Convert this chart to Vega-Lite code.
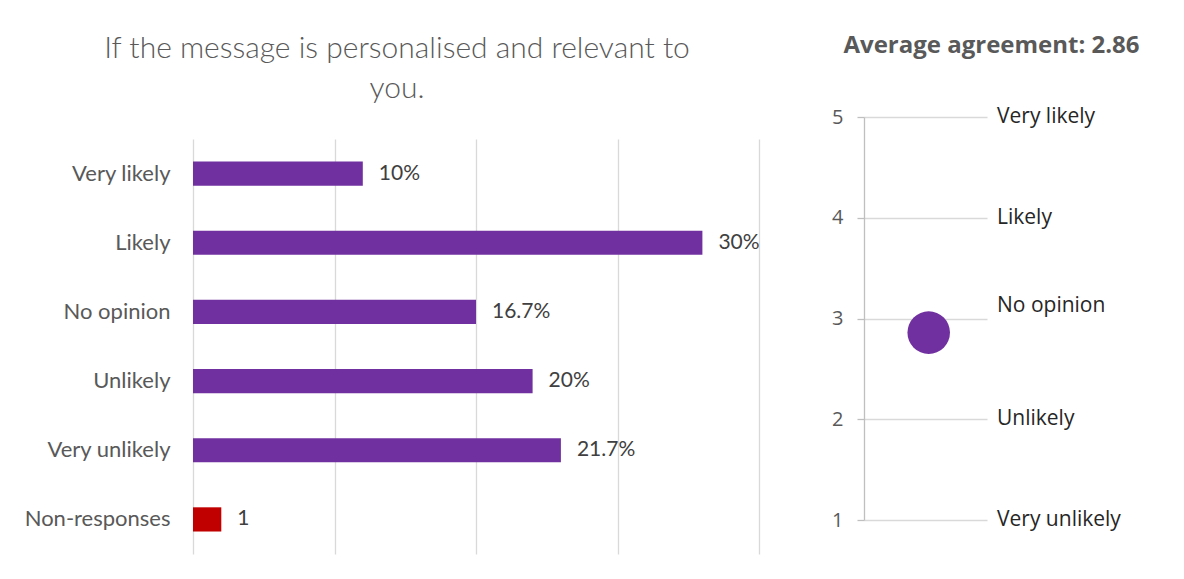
{
  "$schema": "https://vega.github.io/schema/vega-lite/v6.json",
  "autosize": {"type": "none"},
  "padding": {"left": 193, "top": 139, "right": 991, "bottom": 440},
  "bounds": "flush",
  "spacing": 105,
  "background": "white",
  "config": {"view": {"stroke": null}},
  "datasets": {
    "bars": [
      {"category": "Very likely", "count": 6, "label": "10%", "group": "response"},
      {"category": "Likely", "count": 18, "label": "30%", "group": "response"},
      {"category": "No opinion", "count": 10, "label": "16.7%", "group": "response"},
      {"category": "Unlikely", "count": 12, "label": "20%", "group": "response"},
      {"category": "Very unlikely", "count": 13, "label": "21.7%", "group": "response"},
      {"category": "Non-responses", "count": 1, "label": "1", "group": "non-response"}
    ],
    "avg": [{"avg": 2.86}],
    "scale": [
      {"score": 5, "name": "Very likely"},
      {"score": 4, "name": "Likely"},
      {"score": 3, "name": "No opinion"},
      {"score": 2, "name": "Unlikely"},
      {"score": 1, "name": "Very unlikely"}
    ]
  },
  "hconcat": [
    {
      "width": 566,
      "height": 415,
      "title": {
        "text": ["If the message is personalised and relevant to", "you."],
        "font": "Lato",
        "fontWeight": 300,
        "fontSize": 30,
        "lineHeight": 40,
        "color": "#595959",
        "anchor": "middle",
        "baseline": "alphabetic",
        "offset": 11,
        "dx": -79
      },
      "data": {"name": "bars"},
      "encoding": {
        "y": {
          "field": "category",
          "type": "nominal",
          "sort": null,
          "scale": {"paddingInner": 0.65, "paddingOuter": 0.325},
          "axis": {
            "title": null,
            "domain": false,
            "ticks": false,
            "labelFont": "Lato",
            "labelFontSize": 22,
            "labelColor": "#595959",
            "labelPadding": 23,
            "labelLimit": 300
          }
        },
        "x": {
          "field": "count",
          "type": "quantitative",
          "scale": {"domain": [0, 20], "nice": false},
          "axis": {
            "title": null,
            "labels": false,
            "ticks": false,
            "domain": false,
            "values": [0, 5, 10, 15, 20],
            "grid": true,
            "gridColor": "#d9d9d9",
            "gridWidth": 1.3
          }
        }
      },
      "layer": [
        {
          "mark": {"type": "bar"},
          "encoding": {
            "color": {
              "field": "group",
              "type": "nominal",
              "scale": {"domain": ["response", "non-response"], "range": ["#7030A0", "#C00000"]},
              "legend": null
            }
          }
        },
        {
          "mark": {"type": "text", "align": "left", "baseline": "middle", "dx": 16, "font": "Lato", "fontSize": 21, "color": "#404040"},
          "encoding": {"text": {"field": "label"}}
        }
      ]
    },
    {
      "width": 123,
      "height": 381,
      "title": {
        "text": "Average agreement: 2.86",
        "font": "Open Sans",
        "fontWeight": "bold",
        "fontSize": 24,
        "color": "#595959",
        "anchor": "middle",
        "baseline": "alphabetic",
        "offset": 29,
        "dx": 66
      },
      "layer": [
        {
          "data": {"name": "avg"},
          "mark": {"type": "point", "filled": true, "shape": "circle", "size": 1810, "color": "#7030A0", "opacity": 1},
          "encoding": {
            "x": {"datum": 1, "type": "quantitative", "scale": {"domain": [-0.11, 2], "nice": false, "zero": false}, "axis": null},
            "y": {
              "field": "avg",
              "type": "quantitative",
              "scale": {"domain": [1, 5], "range": [381, -22], "nice": false, "zero": false},
              "axis": {
                "title": null,
                "values": [1, 2, 3, 4, 5],
                "format": "d",
                "grid": true,
                "gridColor": "#d9d9d9",
                "gridWidth": 1.3,
                "domain": true,
                "domainColor": "#bfbfbf",
                "domainWidth": 1.3,
                "ticks": true,
                "tickSize": 7,
                "tickColor": "#bfbfbf",
                "tickWidth": 1.3,
                "labelFont": "Open Sans",
                "labelFontSize": 20,
                "labelColor": "#595959",
                "labelPadding": 14
              }
            }
          }
        },
        {
          "data": {"name": "scale"},
          "transform": [{"filter": "datum.score != 3"}],
          "mark": {"type": "text", "align": "left", "baseline": "middle", "dx": 10, "font": "Open Sans", "fontSize": 21, "color": "#262626"},
          "encoding": {
            "x": {"datum": 2, "type": "quantitative"},
            "y": {"field": "score", "type": "quantitative"},
            "text": {"field": "name"}
          }
        },
        {
          "data": {"name": "scale"},
          "transform": [{"filter": "datum.score == 3"}],
          "mark": {"type": "text", "align": "left", "baseline": "middle", "dx": 10, "dy": -13, "font": "Open Sans", "fontSize": 21, "color": "#262626"},
          "encoding": {
            "x": {"datum": 2, "type": "quantitative"},
            "y": {"field": "score", "type": "quantitative"},
            "text": {"field": "name"}
          }
        }
      ]
    }
  ]
}
